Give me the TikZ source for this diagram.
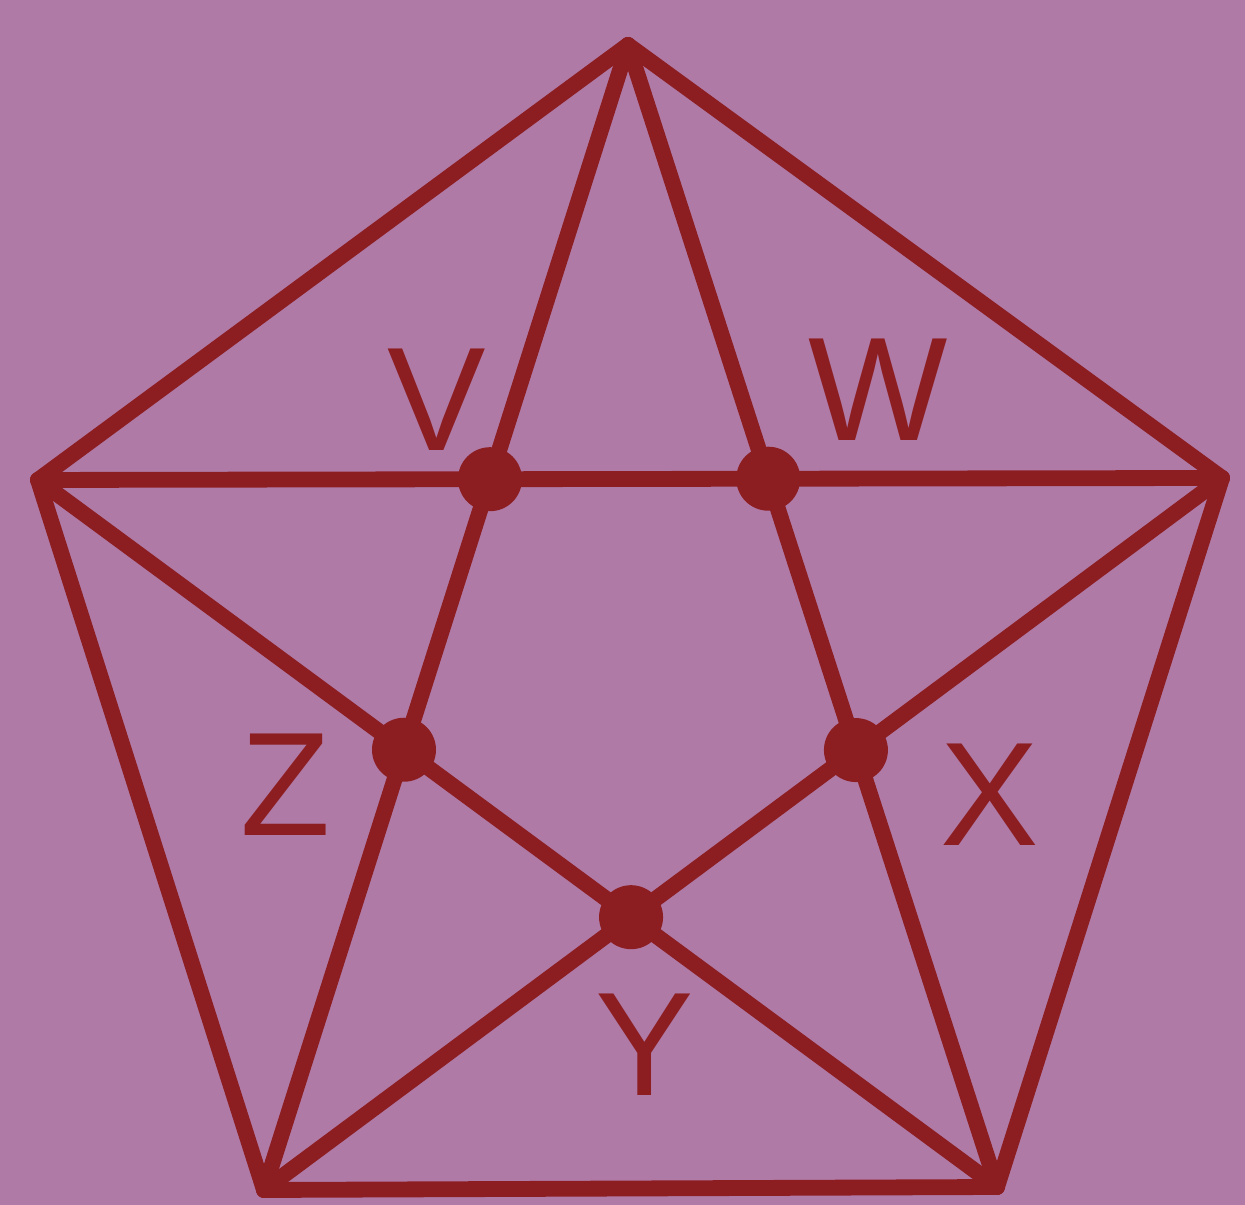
\documentclass[tikz,border=0pt]{standalone}
\usepackage{fontspec}
\setmainfont{Liberation Sans}
\definecolor{bgc}{HTML}{B07AA6}
\definecolor{ink}{HTML}{8C1E22}
\begin{document}
\begin{tikzpicture}[x=1cm,y=1cm,
  edge/.style={draw=ink,line width=4.5pt,line cap=round,line join=round},
  dot/.style={circle,fill=ink,inner sep=0pt,minimum size=0.64cm},
  lbl/.style={text=ink,font=\fontsize{42}{42}\selectfont,inner sep=0pt}]
\fill[bgc] (0,0) rectangle (12.45,12.05);
\useasboundingbox (0,0) rectangle (12.45,12.05);
\coordinate (T) at (6.28,11.60);
\coordinate (L) at (0.38,7.25);
\coordinate (R) at (12.22,7.27);
\coordinate (BL) at (2.64,0.15);
\coordinate (BR) at (9.97,0.18);
% pentagon
\draw[edge] (T) -- (R) -- (BR) -- (BL) -- (L) -- cycle;
% diagonals
\draw[edge] (T) -- (BL);
\draw[edge] (T) -- (BR);
\draw[edge] (L) -- (R);
\draw[edge] (L) -- (BR);
\draw[edge] (R) -- (BL);
% intersection dots
\node[dot] (V) at (intersection of T--BL and L--R) {};
\node[dot] (W) at (intersection of T--BR and L--R) {};
\node[dot] (X) at (intersection of T--BR and R--BL) {};
\node[dot] (Y) at (intersection of L--BR and R--BL) {};
\node[dot] (Z) at (intersection of T--BL and L--BR) {};
% labels
\node[lbl] (lV) at (4.37,8.05) {V};
\node[lbl] (lW) at (8.78,8.15) {W};
\node[lbl] (lZ) at (2.86,4.20) {Z};
\node[lbl] (lX) at (9.90,4.10) {X};
\node[lbl] (lY) at (6.45,1.60) {Y};
\end{tikzpicture}
\end{document}
